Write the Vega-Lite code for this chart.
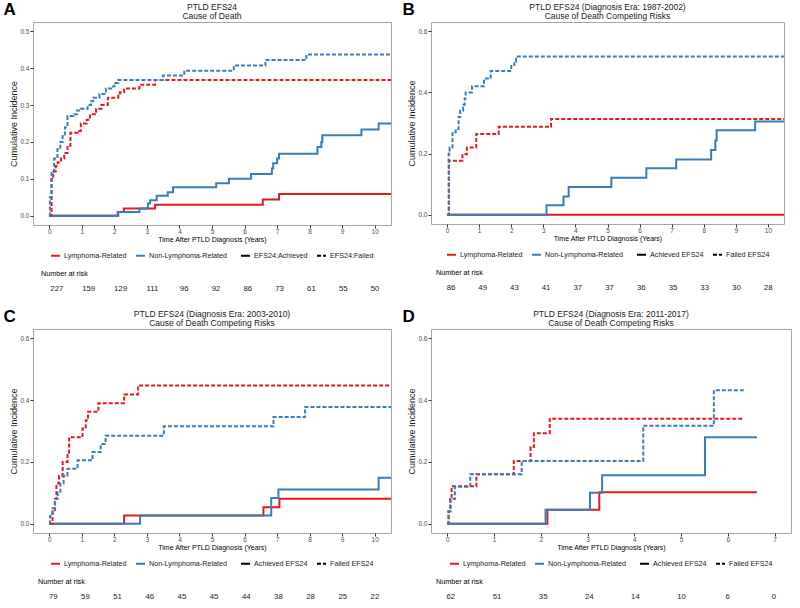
{
  "$schema": "https://vega.github.io/schema/vega-lite/v6.json",
  "padding": {"left": 3, "top": 0, "right": 2, "bottom": 2},
  "background": "white",
  "config": {
    "font": "Liberation Sans",
    "view": {"stroke": "#a6a6a6", "strokeWidth": 1},
    "axis": {"grid": false, "domain": false, "tickColor": "#333333", "tickSize": 3, "labelFontSize": 6.5, "labelColor": "#4d4d4d", "titleFontSize": 7, "titleFontWeight": "normal", "titleColor": "#000000", "labelPadding": 0, "titlePadding": 1},
    "axisY": {"titleFontSize": 9, "titlePadding": 1, "labelPadding": 1, "titleColor": "#1a1a1a"},
    "legend": {"orient": "bottom", "direction": "horizontal", "labelFontSize": 7.2, "labelColor": "#1a1a1a", "symbolType": "stroke", "symbolStrokeWidth": 2, "symbolSize": 81, "labelOffset": 3, "columnPadding": 5, "padding": 0, "offset": 7, "layout": {"bottom": {"anchor": "middle", "direction": "horizontal", "margin": 12}}},
    "title": {"fontSize": 8.5, "fontWeight": "normal", "color": "#1a1a1a", "lineHeight": 9, "offset": 1.5}
  },
  "resolve": {"scale": {"color": "independent", "strokeDash": "independent"}, "legend": {"color": "independent", "strokeDash": "independent"}},
  "spacing": 13,
  "vconcat": [
    {
      "resolve": {"scale": {"color": "independent", "strokeDash": "independent"}, "legend": {"color": "independent", "strokeDash": "independent"}},
      "spacing": 10,
      "hconcat": [
        {
          "title": {"text": "A", "anchor": "start", "fontSize": 17, "fontWeight": "bold", "color": "#000000", "offset": -16, "dx": -6},
          "resolve": {"legend": {"color": "independent", "strokeDash": "independent"}},
          "spacing": 8,
          "vconcat": [
            {
              "width": 358, "height": 203,
              "title": {"text": ["PTLD EFS24", "Cause of Death"], "anchor": "middle"},
              "data": {"name": "curves"},
              "transform": [{"filter": "datum.p === 'A'"}],
              "mark": {"type": "line", "interpolate": "step-after", "strokeWidth": 2, "clip": true},
              "encoding": {
                "x": {"field": "t", "type": "quantitative", "scale": {"domain": [-0.5, 10.5], "nice": false, "zero": false}, "axis": {"values": [0,1,2,3,4,5,6,7,8,9,10], "title": "Time After PTLD Diagnosis (Years)"}},
                "y": {"field": "v", "type": "quantitative", "scale": {"domain": [-0.025, 0.525], "nice": false, "zero": false}, "axis": {"values": [0,0.1,0.2,0.3,0.4,0.5], "format": ".1f", "title": "Cumulative Incidence"}},
                "color": {"field": "cause", "type": "nominal", "scale": {"domain": ["Lymphoma-Related", "Non-Lymphoma-Related"], "range": ["#e41a1c", "#377eb8"]}, "legend": {"title": null}},
                "strokeDash": {"field": "efs", "type": "nominal", "scale": {"domain": ["EFS24:Achieved", "EFS24:Failed"], "range": [[1, 0], [4, 2]]}, "legend": {"title": null, "symbolStrokeColor": "#000000"}}
              }
            },
            {
              "width": 358, "height": 10,
              "view": {"stroke": null},
              "title": {"text": "Number at risk", "anchor": "start", "fontSize": 7.2, "color": "#000000", "offset": 7, "dx": 8},
              "data": {"name": "risk"},
              "transform": [{"filter": "datum.p === 'A'"}],
              "mark": {"type": "text", "fontSize": 7.8, "color": "#1a1a1a"},
              "encoding": {
                "x": {"field": "t", "type": "quantitative", "scale": {"domain": [-0.75, 10.5], "nice": false, "zero": false}, "axis": null},
                "text": {"field": "n", "type": "quantitative"}
              }
            }
          ]
        },
        {
          "title": {"text": "B", "anchor": "start", "fontSize": 17, "fontWeight": "bold", "color": "#000000", "offset": -16, "dx": -5},
          "resolve": {"legend": {"color": "independent", "strokeDash": "independent"}},
          "spacing": 8,
          "vconcat": [
            {
              "width": 353, "height": 202,
              "title": {"text": ["PTLD EFS24 (Diagnosis Era: 1987-2002)", "Cause of Death Competing Risks"], "anchor": "middle"},
              "data": {"name": "curves"},
              "transform": [{"filter": "datum.p === 'B'"}],
              "mark": {"type": "line", "interpolate": "step-after", "strokeWidth": 2, "clip": true},
              "encoding": {
                "x": {"field": "t", "type": "quantitative", "scale": {"domain": [-0.5, 10.5], "nice": false, "zero": false}, "axis": {"values": [0,1,2,3,4,5,6,7,8,9,10], "title": "Time After PTLD Diagnosis (Years)"}},
                "y": {"field": "v", "type": "quantitative", "scale": {"domain": [-0.03, 0.63], "nice": false, "zero": false}, "axis": {"values": [0,0.2,0.4,0.6], "format": ".1f", "title": "Cumulative Incidence"}},
                "color": {"field": "cause", "type": "nominal", "scale": {"domain": ["Lymphoma-Related", "Non-Lymphoma-Related"], "range": ["#e41a1c", "#377eb8"]}, "legend": {"title": null}},
                "strokeDash": {"field": "efs", "type": "nominal", "scale": {"domain": ["Achieved EFS24", "Failed EFS24"], "range": [[1, 0], [4, 2]]}, "legend": {"title": null, "symbolStrokeColor": "#000000"}}
              }
            },
            {
              "width": 353, "height": 10,
              "view": {"stroke": null},
              "title": {"text": "Number at risk", "anchor": "start", "fontSize": 7.2, "color": "#000000", "offset": 7, "dx": 5},
              "data": {"name": "risk"},
              "transform": [{"filter": "datum.p === 'B'"}],
              "mark": {"type": "text", "fontSize": 7.8, "color": "#1a1a1a"},
              "encoding": {
                "x": {"field": "t", "type": "quantitative", "scale": {"domain": [-0.63, 10.5], "nice": false, "zero": false}, "axis": null},
                "text": {"field": "n", "type": "quantitative"}
              }
            }
          ]
        }
      ]
    },
    {
      "resolve": {"scale": {"color": "independent", "strokeDash": "independent"}, "legend": {"color": "independent", "strokeDash": "independent"}},
      "spacing": 10,
      "hconcat": [
        {
          "title": {"text": "C", "anchor": "start", "fontSize": 17, "fontWeight": "bold", "color": "#000000", "offset": -16, "dx": -6},
          "resolve": {"legend": {"color": "independent", "strokeDash": "independent"}},
          "spacing": 8,
          "vconcat": [
            {
              "width": 358, "height": 204,
              "title": {"text": ["PTLD EFS24 (Diagnosis Era: 2003-2010)", "Cause of Death Competing Risks"], "anchor": "middle"},
              "data": {"name": "curves"},
              "transform": [{"filter": "datum.p === 'C'"}],
              "mark": {"type": "line", "interpolate": "step-after", "strokeWidth": 2, "clip": true},
              "encoding": {
                "x": {"field": "t", "type": "quantitative", "scale": {"domain": [-0.5, 10.5], "nice": false, "zero": false}, "axis": {"values": [0,1,2,3,4,5,6,7,8,9,10], "title": "Time After PTLD Diagnosis (Years)"}},
                "y": {"field": "v", "type": "quantitative", "scale": {"domain": [-0.03, 0.63], "nice": false, "zero": false}, "axis": {"values": [0,0.2,0.4,0.6], "format": ".1f", "title": "Cumulative Incidence"}},
                "color": {"field": "cause", "type": "nominal", "scale": {"domain": ["Lymphoma-Related", "Non-Lymphoma-Related"], "range": ["#e41a1c", "#377eb8"]}, "legend": {"title": null}},
                "strokeDash": {"field": "efs", "type": "nominal", "scale": {"domain": ["Achieved EFS24", "Failed EFS24"], "range": [[1, 0], [4, 2]]}, "legend": {"title": null, "symbolStrokeColor": "#000000"}}
              }
            },
            {
              "width": 358, "height": 10,
              "view": {"stroke": null},
              "title": {"text": "Number at risk", "anchor": "start", "fontSize": 7.2, "color": "#000000", "offset": 7, "dx": 5},
              "data": {"name": "risk"},
              "transform": [{"filter": "datum.p === 'C'"}],
              "mark": {"type": "text", "fontSize": 7.8, "color": "#1a1a1a"},
              "encoding": {
                "x": {"field": "t", "type": "quantitative", "scale": {"domain": [-0.63, 10.5], "nice": false, "zero": false}, "axis": null},
                "text": {"field": "n", "type": "quantitative"}
              }
            }
          ]
        },
        {
          "title": {"text": "D", "anchor": "start", "fontSize": 17, "fontWeight": "bold", "color": "#000000", "offset": -16, "dx": -5},
          "resolve": {"legend": {"color": "independent", "strokeDash": "independent"}},
          "spacing": 8,
          "vconcat": [
            {
              "width": 360, "height": 204,
              "title": {"text": ["PTLD EFS24 (Diagnosis Era: 2011-2017)", "Cause of Death Competing Risks"], "anchor": "middle"},
              "data": {"name": "curves"},
              "transform": [{"filter": "datum.p === 'D'"}],
              "mark": {"type": "line", "interpolate": "step-after", "strokeWidth": 2, "clip": true},
              "encoding": {
                "x": {"field": "t", "type": "quantitative", "scale": {"domain": [-0.35, 7.35], "nice": false, "zero": false}, "axis": {"values": [0,1,2,3,4,5,6,7], "title": "Time After PTLD Diagnosis (Years)"}},
                "y": {"field": "v", "type": "quantitative", "scale": {"domain": [-0.03, 0.63], "nice": false, "zero": false}, "axis": {"values": [0,0.2,0.4,0.6], "format": ".1f", "title": "Cumulative Incidence"}},
                "color": {"field": "cause", "type": "nominal", "scale": {"domain": ["Lymphoma-Related", "Non-Lymphoma-Related"], "range": ["#e41a1c", "#377eb8"]}, "legend": {"title": null}},
                "strokeDash": {"field": "efs", "type": "nominal", "scale": {"domain": ["Achieved EFS24", "Failed EFS24"], "range": [[1, 0], [4, 2]]}, "legend": {"title": null, "symbolStrokeColor": "#000000"}}
              }
            },
            {
              "width": 360, "height": 10,
              "view": {"stroke": null},
              "title": {"text": "Number at risk", "anchor": "start", "fontSize": 7.2, "color": "#000000", "offset": 7, "dx": 5},
              "data": {"name": "risk"},
              "transform": [{"filter": "datum.p === 'D'"}],
              "mark": {"type": "text", "fontSize": 7.8, "color": "#1a1a1a"},
              "encoding": {
                "x": {"field": "t", "type": "quantitative", "scale": {"domain": [-0.43, 7.37], "nice": false, "zero": false}, "axis": null},
                "text": {"field": "n", "type": "quantitative"}
              }
            }
          ]
        }
      ]
    }
  ],
  "datasets": {
    "risk": [
      {"p":"A","t":0,"n":227},{"p":"A","t":1,"n":159},{"p":"A","t":2,"n":129},{"p":"A","t":3,"n":111},{"p":"A","t":4,"n":96},{"p":"A","t":5,"n":92},{"p":"A","t":6,"n":86},{"p":"A","t":7,"n":73},{"p":"A","t":8,"n":61},{"p":"A","t":9,"n":55},{"p":"A","t":10,"n":50},
      {"p":"B","t":0,"n":86},{"p":"B","t":1,"n":49},{"p":"B","t":2,"n":43},{"p":"B","t":3,"n":41},{"p":"B","t":4,"n":37},{"p":"B","t":5,"n":37},{"p":"B","t":6,"n":36},{"p":"B","t":7,"n":35},{"p":"B","t":8,"n":33},{"p":"B","t":9,"n":30},{"p":"B","t":10,"n":28},
      {"p":"C","t":0,"n":79},{"p":"C","t":1,"n":59},{"p":"C","t":2,"n":51},{"p":"C","t":3,"n":46},{"p":"C","t":4,"n":45},{"p":"C","t":5,"n":45},{"p":"C","t":6,"n":44},{"p":"C","t":7,"n":38},{"p":"C","t":8,"n":28},{"p":"C","t":9,"n":25},{"p":"C","t":10,"n":22},
      {"p":"D","t":0,"n":62},{"p":"D","t":1,"n":51},{"p":"D","t":2,"n":35},{"p":"D","t":3,"n":24},{"p":"D","t":4,"n":14},{"p":"D","t":5,"n":10},{"p":"D","t":6,"n":6},{"p":"D","t":7,"n":0}
    ],
    "curves": [
      {"p":"A","cause":"Lymphoma-Related","efs":"EFS24:Achieved","t":0,"v":0},
      {"p":"A","cause":"Lymphoma-Related","efs":"EFS24:Achieved","t":2.12,"v":0.01},
      {"p":"A","cause":"Lymphoma-Related","efs":"EFS24:Achieved","t":2.29,"v":0.02},
      {"p":"A","cause":"Lymphoma-Related","efs":"EFS24:Achieved","t":3.25,"v":0.03},
      {"p":"A","cause":"Lymphoma-Related","efs":"EFS24:Achieved","t":6.56,"v":0.044},
      {"p":"A","cause":"Lymphoma-Related","efs":"EFS24:Achieved","t":7.06,"v":0.059},
      {"p":"A","cause":"Lymphoma-Related","efs":"EFS24:Achieved","t":10.5,"v":0.059},

      {"p":"A","cause":"Non-Lymphoma-Related","efs":"EFS24:Achieved","t":0,"v":0},
      {"p":"A","cause":"Non-Lymphoma-Related","efs":"EFS24:Achieved","t":2.1,"v":0.01},
      {"p":"A","cause":"Non-Lymphoma-Related","efs":"EFS24:Achieved","t":2.77,"v":0.02},
      {"p":"A","cause":"Non-Lymphoma-Related","efs":"EFS24:Achieved","t":3.03,"v":0.033},
      {"p":"A","cause":"Non-Lymphoma-Related","efs":"EFS24:Achieved","t":3.1,"v":0.042},
      {"p":"A","cause":"Non-Lymphoma-Related","efs":"EFS24:Achieved","t":3.3,"v":0.054},
      {"p":"A","cause":"Non-Lymphoma-Related","efs":"EFS24:Achieved","t":3.64,"v":0.064},
      {"p":"A","cause":"Non-Lymphoma-Related","efs":"EFS24:Achieved","t":3.8,"v":0.077},
      {"p":"A","cause":"Non-Lymphoma-Related","efs":"EFS24:Achieved","t":5.13,"v":0.088},
      {"p":"A","cause":"Non-Lymphoma-Related","efs":"EFS24:Achieved","t":5.52,"v":0.1},
      {"p":"A","cause":"Non-Lymphoma-Related","efs":"EFS24:Achieved","t":6.2,"v":0.113},
      {"p":"A","cause":"Non-Lymphoma-Related","efs":"EFS24:Achieved","t":6.84,"v":0.128},
      {"p":"A","cause":"Non-Lymphoma-Related","efs":"EFS24:Achieved","t":6.88,"v":0.142},
      {"p":"A","cause":"Non-Lymphoma-Related","efs":"EFS24:Achieved","t":7.0,"v":0.155},
      {"p":"A","cause":"Non-Lymphoma-Related","efs":"EFS24:Achieved","t":7.06,"v":0.168},
      {"p":"A","cause":"Non-Lymphoma-Related","efs":"EFS24:Achieved","t":8.24,"v":0.186},
      {"p":"A","cause":"Non-Lymphoma-Related","efs":"EFS24:Achieved","t":8.36,"v":0.2},
      {"p":"A","cause":"Non-Lymphoma-Related","efs":"EFS24:Achieved","t":8.39,"v":0.218},
      {"p":"A","cause":"Non-Lymphoma-Related","efs":"EFS24:Achieved","t":9.59,"v":0.234},
      {"p":"A","cause":"Non-Lymphoma-Related","efs":"EFS24:Achieved","t":10.12,"v":0.25},
      {"p":"A","cause":"Non-Lymphoma-Related","efs":"EFS24:Achieved","t":10.5,"v":0.25},

      {"p":"A","cause":"Lymphoma-Related","efs":"EFS24:Failed","t":0,"v":0},
      {"p":"A","cause":"Lymphoma-Related","efs":"EFS24:Failed","t":0.07,"v":0.1},
      {"p":"A","cause":"Lymphoma-Related","efs":"EFS24:Failed","t":0.12,"v":0.12},
      {"p":"A","cause":"Lymphoma-Related","efs":"EFS24:Failed","t":0.2,"v":0.135},
      {"p":"A","cause":"Lymphoma-Related","efs":"EFS24:Failed","t":0.26,"v":0.145},
      {"p":"A","cause":"Lymphoma-Related","efs":"EFS24:Failed","t":0.36,"v":0.155},
      {"p":"A","cause":"Lymphoma-Related","efs":"EFS24:Failed","t":0.46,"v":0.17},
      {"p":"A","cause":"Lymphoma-Related","efs":"EFS24:Failed","t":0.56,"v":0.19},
      {"p":"A","cause":"Lymphoma-Related","efs":"EFS24:Failed","t":0.65,"v":0.225},
      {"p":"A","cause":"Lymphoma-Related","efs":"EFS24:Failed","t":0.87,"v":0.23},
      {"p":"A","cause":"Lymphoma-Related","efs":"EFS24:Failed","t":0.97,"v":0.25},
      {"p":"A","cause":"Lymphoma-Related","efs":"EFS24:Failed","t":1.15,"v":0.26},
      {"p":"A","cause":"Lymphoma-Related","efs":"EFS24:Failed","t":1.25,"v":0.275},
      {"p":"A","cause":"Lymphoma-Related","efs":"EFS24:Failed","t":1.44,"v":0.29},
      {"p":"A","cause":"Lymphoma-Related","efs":"EFS24:Failed","t":1.6,"v":0.3},
      {"p":"A","cause":"Lymphoma-Related","efs":"EFS24:Failed","t":1.8,"v":0.32},
      {"p":"A","cause":"Lymphoma-Related","efs":"EFS24:Failed","t":2.12,"v":0.325},
      {"p":"A","cause":"Lymphoma-Related","efs":"EFS24:Failed","t":2.17,"v":0.335},
      {"p":"A","cause":"Lymphoma-Related","efs":"EFS24:Failed","t":2.3,"v":0.345},
      {"p":"A","cause":"Lymphoma-Related","efs":"EFS24:Failed","t":2.77,"v":0.355},
      {"p":"A","cause":"Lymphoma-Related","efs":"EFS24:Failed","t":3.25,"v":0.368},
      {"p":"A","cause":"Lymphoma-Related","efs":"EFS24:Failed","t":10.5,"v":0.368},

      {"p":"A","cause":"Non-Lymphoma-Related","efs":"EFS24:Failed","t":0,"v":0},
      {"p":"A","cause":"Non-Lymphoma-Related","efs":"EFS24:Failed","t":0.02,"v":0.05},
      {"p":"A","cause":"Non-Lymphoma-Related","efs":"EFS24:Failed","t":0.07,"v":0.12},
      {"p":"A","cause":"Non-Lymphoma-Related","efs":"EFS24:Failed","t":0.15,"v":0.155},
      {"p":"A","cause":"Non-Lymphoma-Related","efs":"EFS24:Failed","t":0.25,"v":0.18},
      {"p":"A","cause":"Non-Lymphoma-Related","efs":"EFS24:Failed","t":0.34,"v":0.2},
      {"p":"A","cause":"Non-Lymphoma-Related","efs":"EFS24:Failed","t":0.41,"v":0.22},
      {"p":"A","cause":"Non-Lymphoma-Related","efs":"EFS24:Failed","t":0.48,"v":0.24},
      {"p":"A","cause":"Non-Lymphoma-Related","efs":"EFS24:Failed","t":0.56,"v":0.27},
      {"p":"A","cause":"Non-Lymphoma-Related","efs":"EFS24:Failed","t":0.74,"v":0.275},
      {"p":"A","cause":"Non-Lymphoma-Related","efs":"EFS24:Failed","t":0.85,"v":0.285},
      {"p":"A","cause":"Non-Lymphoma-Related","efs":"EFS24:Failed","t":0.97,"v":0.29},
      {"p":"A","cause":"Non-Lymphoma-Related","efs":"EFS24:Failed","t":1.18,"v":0.3},
      {"p":"A","cause":"Non-Lymphoma-Related","efs":"EFS24:Failed","t":1.28,"v":0.31},
      {"p":"A","cause":"Non-Lymphoma-Related","efs":"EFS24:Failed","t":1.35,"v":0.32},
      {"p":"A","cause":"Non-Lymphoma-Related","efs":"EFS24:Failed","t":1.54,"v":0.33},
      {"p":"A","cause":"Non-Lymphoma-Related","efs":"EFS24:Failed","t":1.74,"v":0.345},
      {"p":"A","cause":"Non-Lymphoma-Related","efs":"EFS24:Failed","t":1.9,"v":0.35},
      {"p":"A","cause":"Non-Lymphoma-Related","efs":"EFS24:Failed","t":2.0,"v":0.36},
      {"p":"A","cause":"Non-Lymphoma-Related","efs":"EFS24:Failed","t":2.12,"v":0.368},
      {"p":"A","cause":"Non-Lymphoma-Related","efs":"EFS24:Failed","t":3.49,"v":0.38},
      {"p":"A","cause":"Non-Lymphoma-Related","efs":"EFS24:Failed","t":4.15,"v":0.393},
      {"p":"A","cause":"Non-Lymphoma-Related","efs":"EFS24:Failed","t":5.67,"v":0.407},
      {"p":"A","cause":"Non-Lymphoma-Related","efs":"EFS24:Failed","t":6.64,"v":0.422},
      {"p":"A","cause":"Non-Lymphoma-Related","efs":"EFS24:Failed","t":7.9,"v":0.437},
      {"p":"A","cause":"Non-Lymphoma-Related","efs":"EFS24:Failed","t":10.5,"v":0.437},

      {"p":"B","cause":"Lymphoma-Related","efs":"Achieved EFS24","t":0,"v":0},
      {"p":"B","cause":"Lymphoma-Related","efs":"Achieved EFS24","t":10.5,"v":0},

      {"p":"B","cause":"Non-Lymphoma-Related","efs":"Achieved EFS24","t":0,"v":0},
      {"p":"B","cause":"Non-Lymphoma-Related","efs":"Achieved EFS24","t":3.1,"v":0.031},
      {"p":"B","cause":"Non-Lymphoma-Related","efs":"Achieved EFS24","t":3.63,"v":0.06},
      {"p":"B","cause":"Non-Lymphoma-Related","efs":"Achieved EFS24","t":3.79,"v":0.091},
      {"p":"B","cause":"Non-Lymphoma-Related","efs":"Achieved EFS24","t":5.12,"v":0.121},
      {"p":"B","cause":"Non-Lymphoma-Related","efs":"Achieved EFS24","t":6.21,"v":0.152},
      {"p":"B","cause":"Non-Lymphoma-Related","efs":"Achieved EFS24","t":7.14,"v":0.181},
      {"p":"B","cause":"Non-Lymphoma-Related","efs":"Achieved EFS24","t":8.23,"v":0.212},
      {"p":"B","cause":"Non-Lymphoma-Related","efs":"Achieved EFS24","t":8.36,"v":0.243},
      {"p":"B","cause":"Non-Lymphoma-Related","efs":"Achieved EFS24","t":8.4,"v":0.276},
      {"p":"B","cause":"Non-Lymphoma-Related","efs":"Achieved EFS24","t":9.6,"v":0.305},
      {"p":"B","cause":"Non-Lymphoma-Related","efs":"Achieved EFS24","t":10.5,"v":0.305},

      {"p":"B","cause":"Lymphoma-Related","efs":"Failed EFS24","t":0,"v":0},
      {"p":"B","cause":"Lymphoma-Related","efs":"Failed EFS24","t":0.06,"v":0.177},
      {"p":"B","cause":"Lymphoma-Related","efs":"Failed EFS24","t":0.48,"v":0.198},
      {"p":"B","cause":"Lymphoma-Related","efs":"Failed EFS24","t":0.62,"v":0.22},
      {"p":"B","cause":"Lymphoma-Related","efs":"Failed EFS24","t":0.91,"v":0.264},
      {"p":"B","cause":"Lymphoma-Related","efs":"Failed EFS24","t":1.61,"v":0.288},
      {"p":"B","cause":"Lymphoma-Related","efs":"Failed EFS24","t":3.24,"v":0.313},
      {"p":"B","cause":"Lymphoma-Related","efs":"Failed EFS24","t":10.5,"v":0.313},

      {"p":"B","cause":"Non-Lymphoma-Related","efs":"Failed EFS24","t":0,"v":0},
      {"p":"B","cause":"Non-Lymphoma-Related","efs":"Failed EFS24","t":0.05,"v":0.2},
      {"p":"B","cause":"Non-Lymphoma-Related","efs":"Failed EFS24","t":0.08,"v":0.22},
      {"p":"B","cause":"Non-Lymphoma-Related","efs":"Failed EFS24","t":0.17,"v":0.27},
      {"p":"B","cause":"Non-Lymphoma-Related","efs":"Failed EFS24","t":0.27,"v":0.28},
      {"p":"B","cause":"Non-Lymphoma-Related","efs":"Failed EFS24","t":0.36,"v":0.32},
      {"p":"B","cause":"Non-Lymphoma-Related","efs":"Failed EFS24","t":0.41,"v":0.34},
      {"p":"B","cause":"Non-Lymphoma-Related","efs":"Failed EFS24","t":0.5,"v":0.36},
      {"p":"B","cause":"Non-Lymphoma-Related","efs":"Failed EFS24","t":0.55,"v":0.38},
      {"p":"B","cause":"Non-Lymphoma-Related","efs":"Failed EFS24","t":0.58,"v":0.4},
      {"p":"B","cause":"Non-Lymphoma-Related","efs":"Failed EFS24","t":0.78,"v":0.42},
      {"p":"B","cause":"Non-Lymphoma-Related","efs":"Failed EFS24","t":1.15,"v":0.445},
      {"p":"B","cause":"Non-Lymphoma-Related","efs":"Failed EFS24","t":1.36,"v":0.47},
      {"p":"B","cause":"Non-Lymphoma-Related","efs":"Failed EFS24","t":2.0,"v":0.49},
      {"p":"B","cause":"Non-Lymphoma-Related","efs":"Failed EFS24","t":2.1,"v":0.5},
      {"p":"B","cause":"Non-Lymphoma-Related","efs":"Failed EFS24","t":2.15,"v":0.517},
      {"p":"B","cause":"Non-Lymphoma-Related","efs":"Failed EFS24","t":10.5,"v":0.517},

      {"p":"C","cause":"Lymphoma-Related","efs":"Achieved EFS24","t":0,"v":0},
      {"p":"C","cause":"Lymphoma-Related","efs":"Achieved EFS24","t":2.3,"v":0.027},
      {"p":"C","cause":"Lymphoma-Related","efs":"Achieved EFS24","t":6.58,"v":0.053},
      {"p":"C","cause":"Lymphoma-Related","efs":"Achieved EFS24","t":7.07,"v":0.081},
      {"p":"C","cause":"Lymphoma-Related","efs":"Achieved EFS24","t":10.5,"v":0.081},

      {"p":"C","cause":"Non-Lymphoma-Related","efs":"Achieved EFS24","t":0,"v":0},
      {"p":"C","cause":"Non-Lymphoma-Related","efs":"Achieved EFS24","t":2.79,"v":0.027},
      {"p":"C","cause":"Non-Lymphoma-Related","efs":"Achieved EFS24","t":6.82,"v":0.083},
      {"p":"C","cause":"Non-Lymphoma-Related","efs":"Achieved EFS24","t":7.04,"v":0.111},
      {"p":"C","cause":"Non-Lymphoma-Related","efs":"Achieved EFS24","t":10.12,"v":0.149},
      {"p":"C","cause":"Non-Lymphoma-Related","efs":"Achieved EFS24","t":10.5,"v":0.149},

      {"p":"C","cause":"Lymphoma-Related","efs":"Failed EFS24","t":0,"v":0},
      {"p":"C","cause":"Lymphoma-Related","efs":"Failed EFS24","t":0.1,"v":0.04},
      {"p":"C","cause":"Lymphoma-Related","efs":"Failed EFS24","t":0.17,"v":0.08},
      {"p":"C","cause":"Lymphoma-Related","efs":"Failed EFS24","t":0.22,"v":0.13},
      {"p":"C","cause":"Lymphoma-Related","efs":"Failed EFS24","t":0.3,"v":0.155},
      {"p":"C","cause":"Lymphoma-Related","efs":"Failed EFS24","t":0.41,"v":0.2},
      {"p":"C","cause":"Lymphoma-Related","efs":"Failed EFS24","t":0.56,"v":0.23},
      {"p":"C","cause":"Lymphoma-Related","efs":"Failed EFS24","t":0.61,"v":0.28},
      {"p":"C","cause":"Lymphoma-Related","efs":"Failed EFS24","t":1.02,"v":0.308},
      {"p":"C","cause":"Lymphoma-Related","efs":"Failed EFS24","t":1.12,"v":0.335},
      {"p":"C","cause":"Lymphoma-Related","efs":"Failed EFS24","t":1.19,"v":0.362},
      {"p":"C","cause":"Lymphoma-Related","efs":"Failed EFS24","t":1.51,"v":0.39},
      {"p":"C","cause":"Lymphoma-Related","efs":"Failed EFS24","t":2.3,"v":0.418},
      {"p":"C","cause":"Lymphoma-Related","efs":"Failed EFS24","t":2.73,"v":0.447},
      {"p":"C","cause":"Lymphoma-Related","efs":"Failed EFS24","t":10.5,"v":0.447},

      {"p":"C","cause":"Non-Lymphoma-Related","efs":"Failed EFS24","t":0,"v":0},
      {"p":"C","cause":"Non-Lymphoma-Related","efs":"Failed EFS24","t":0.02,"v":0.025},
      {"p":"C","cause":"Non-Lymphoma-Related","efs":"Failed EFS24","t":0.1,"v":0.05},
      {"p":"C","cause":"Non-Lymphoma-Related","efs":"Failed EFS24","t":0.18,"v":0.08},
      {"p":"C","cause":"Non-Lymphoma-Related","efs":"Failed EFS24","t":0.26,"v":0.1},
      {"p":"C","cause":"Non-Lymphoma-Related","efs":"Failed EFS24","t":0.34,"v":0.13},
      {"p":"C","cause":"Non-Lymphoma-Related","efs":"Failed EFS24","t":0.44,"v":0.155},
      {"p":"C","cause":"Non-Lymphoma-Related","efs":"Failed EFS24","t":0.56,"v":0.178},
      {"p":"C","cause":"Non-Lymphoma-Related","efs":"Failed EFS24","t":0.87,"v":0.205},
      {"p":"C","cause":"Non-Lymphoma-Related","efs":"Failed EFS24","t":1.33,"v":0.232},
      {"p":"C","cause":"Non-Lymphoma-Related","efs":"Failed EFS24","t":1.58,"v":0.258},
      {"p":"C","cause":"Non-Lymphoma-Related","efs":"Failed EFS24","t":1.73,"v":0.285},
      {"p":"C","cause":"Non-Lymphoma-Related","efs":"Failed EFS24","t":3.52,"v":0.315},
      {"p":"C","cause":"Non-Lymphoma-Related","efs":"Failed EFS24","t":6.89,"v":0.345},
      {"p":"C","cause":"Non-Lymphoma-Related","efs":"Failed EFS24","t":7.86,"v":0.378},
      {"p":"C","cause":"Non-Lymphoma-Related","efs":"Failed EFS24","t":10.5,"v":0.378},

      {"p":"D","cause":"Lymphoma-Related","efs":"Achieved EFS24","t":0,"v":0},
      {"p":"D","cause":"Lymphoma-Related","efs":"Achieved EFS24","t":2.14,"v":0.045},
      {"p":"D","cause":"Lymphoma-Related","efs":"Achieved EFS24","t":3.25,"v":0.102},
      {"p":"D","cause":"Lymphoma-Related","efs":"Achieved EFS24","t":6.62,"v":0.102},

      {"p":"D","cause":"Non-Lymphoma-Related","efs":"Achieved EFS24","t":0,"v":0},
      {"p":"D","cause":"Non-Lymphoma-Related","efs":"Achieved EFS24","t":2.1,"v":0.045},
      {"p":"D","cause":"Non-Lymphoma-Related","efs":"Achieved EFS24","t":3.05,"v":0.1},
      {"p":"D","cause":"Non-Lymphoma-Related","efs":"Achieved EFS24","t":3.31,"v":0.157},
      {"p":"D","cause":"Non-Lymphoma-Related","efs":"Achieved EFS24","t":5.51,"v":0.28},
      {"p":"D","cause":"Non-Lymphoma-Related","efs":"Achieved EFS24","t":6.62,"v":0.28},

      {"p":"D","cause":"Lymphoma-Related","efs":"Failed EFS24","t":0,"v":0},
      {"p":"D","cause":"Lymphoma-Related","efs":"Failed EFS24","t":0.03,"v":0.04},
      {"p":"D","cause":"Lymphoma-Related","efs":"Failed EFS24","t":0.06,"v":0.08},
      {"p":"D","cause":"Lymphoma-Related","efs":"Failed EFS24","t":0.09,"v":0.121},
      {"p":"D","cause":"Lymphoma-Related","efs":"Failed EFS24","t":0.62,"v":0.16},
      {"p":"D","cause":"Lymphoma-Related","efs":"Failed EFS24","t":1.42,"v":0.203},
      {"p":"D","cause":"Lymphoma-Related","efs":"Failed EFS24","t":1.78,"v":0.248},
      {"p":"D","cause":"Lymphoma-Related","efs":"Failed EFS24","t":1.85,"v":0.293},
      {"p":"D","cause":"Lymphoma-Related","efs":"Failed EFS24","t":2.19,"v":0.34},
      {"p":"D","cause":"Lymphoma-Related","efs":"Failed EFS24","t":6.34,"v":0.34},

      {"p":"D","cause":"Non-Lymphoma-Related","efs":"Failed EFS24","t":0,"v":0},
      {"p":"D","cause":"Non-Lymphoma-Related","efs":"Failed EFS24","t":0.02,"v":0.04},
      {"p":"D","cause":"Non-Lymphoma-Related","efs":"Failed EFS24","t":0.07,"v":0.08},
      {"p":"D","cause":"Non-Lymphoma-Related","efs":"Failed EFS24","t":0.16,"v":0.12},
      {"p":"D","cause":"Non-Lymphoma-Related","efs":"Failed EFS24","t":0.49,"v":0.16},
      {"p":"D","cause":"Non-Lymphoma-Related","efs":"Failed EFS24","t":1.59,"v":0.203},
      {"p":"D","cause":"Non-Lymphoma-Related","efs":"Failed EFS24","t":4.19,"v":0.317},
      {"p":"D","cause":"Non-Lymphoma-Related","efs":"Failed EFS24","t":5.7,"v":0.432},
      {"p":"D","cause":"Non-Lymphoma-Related","efs":"Failed EFS24","t":6.34,"v":0.432}
    ]
  }
}
